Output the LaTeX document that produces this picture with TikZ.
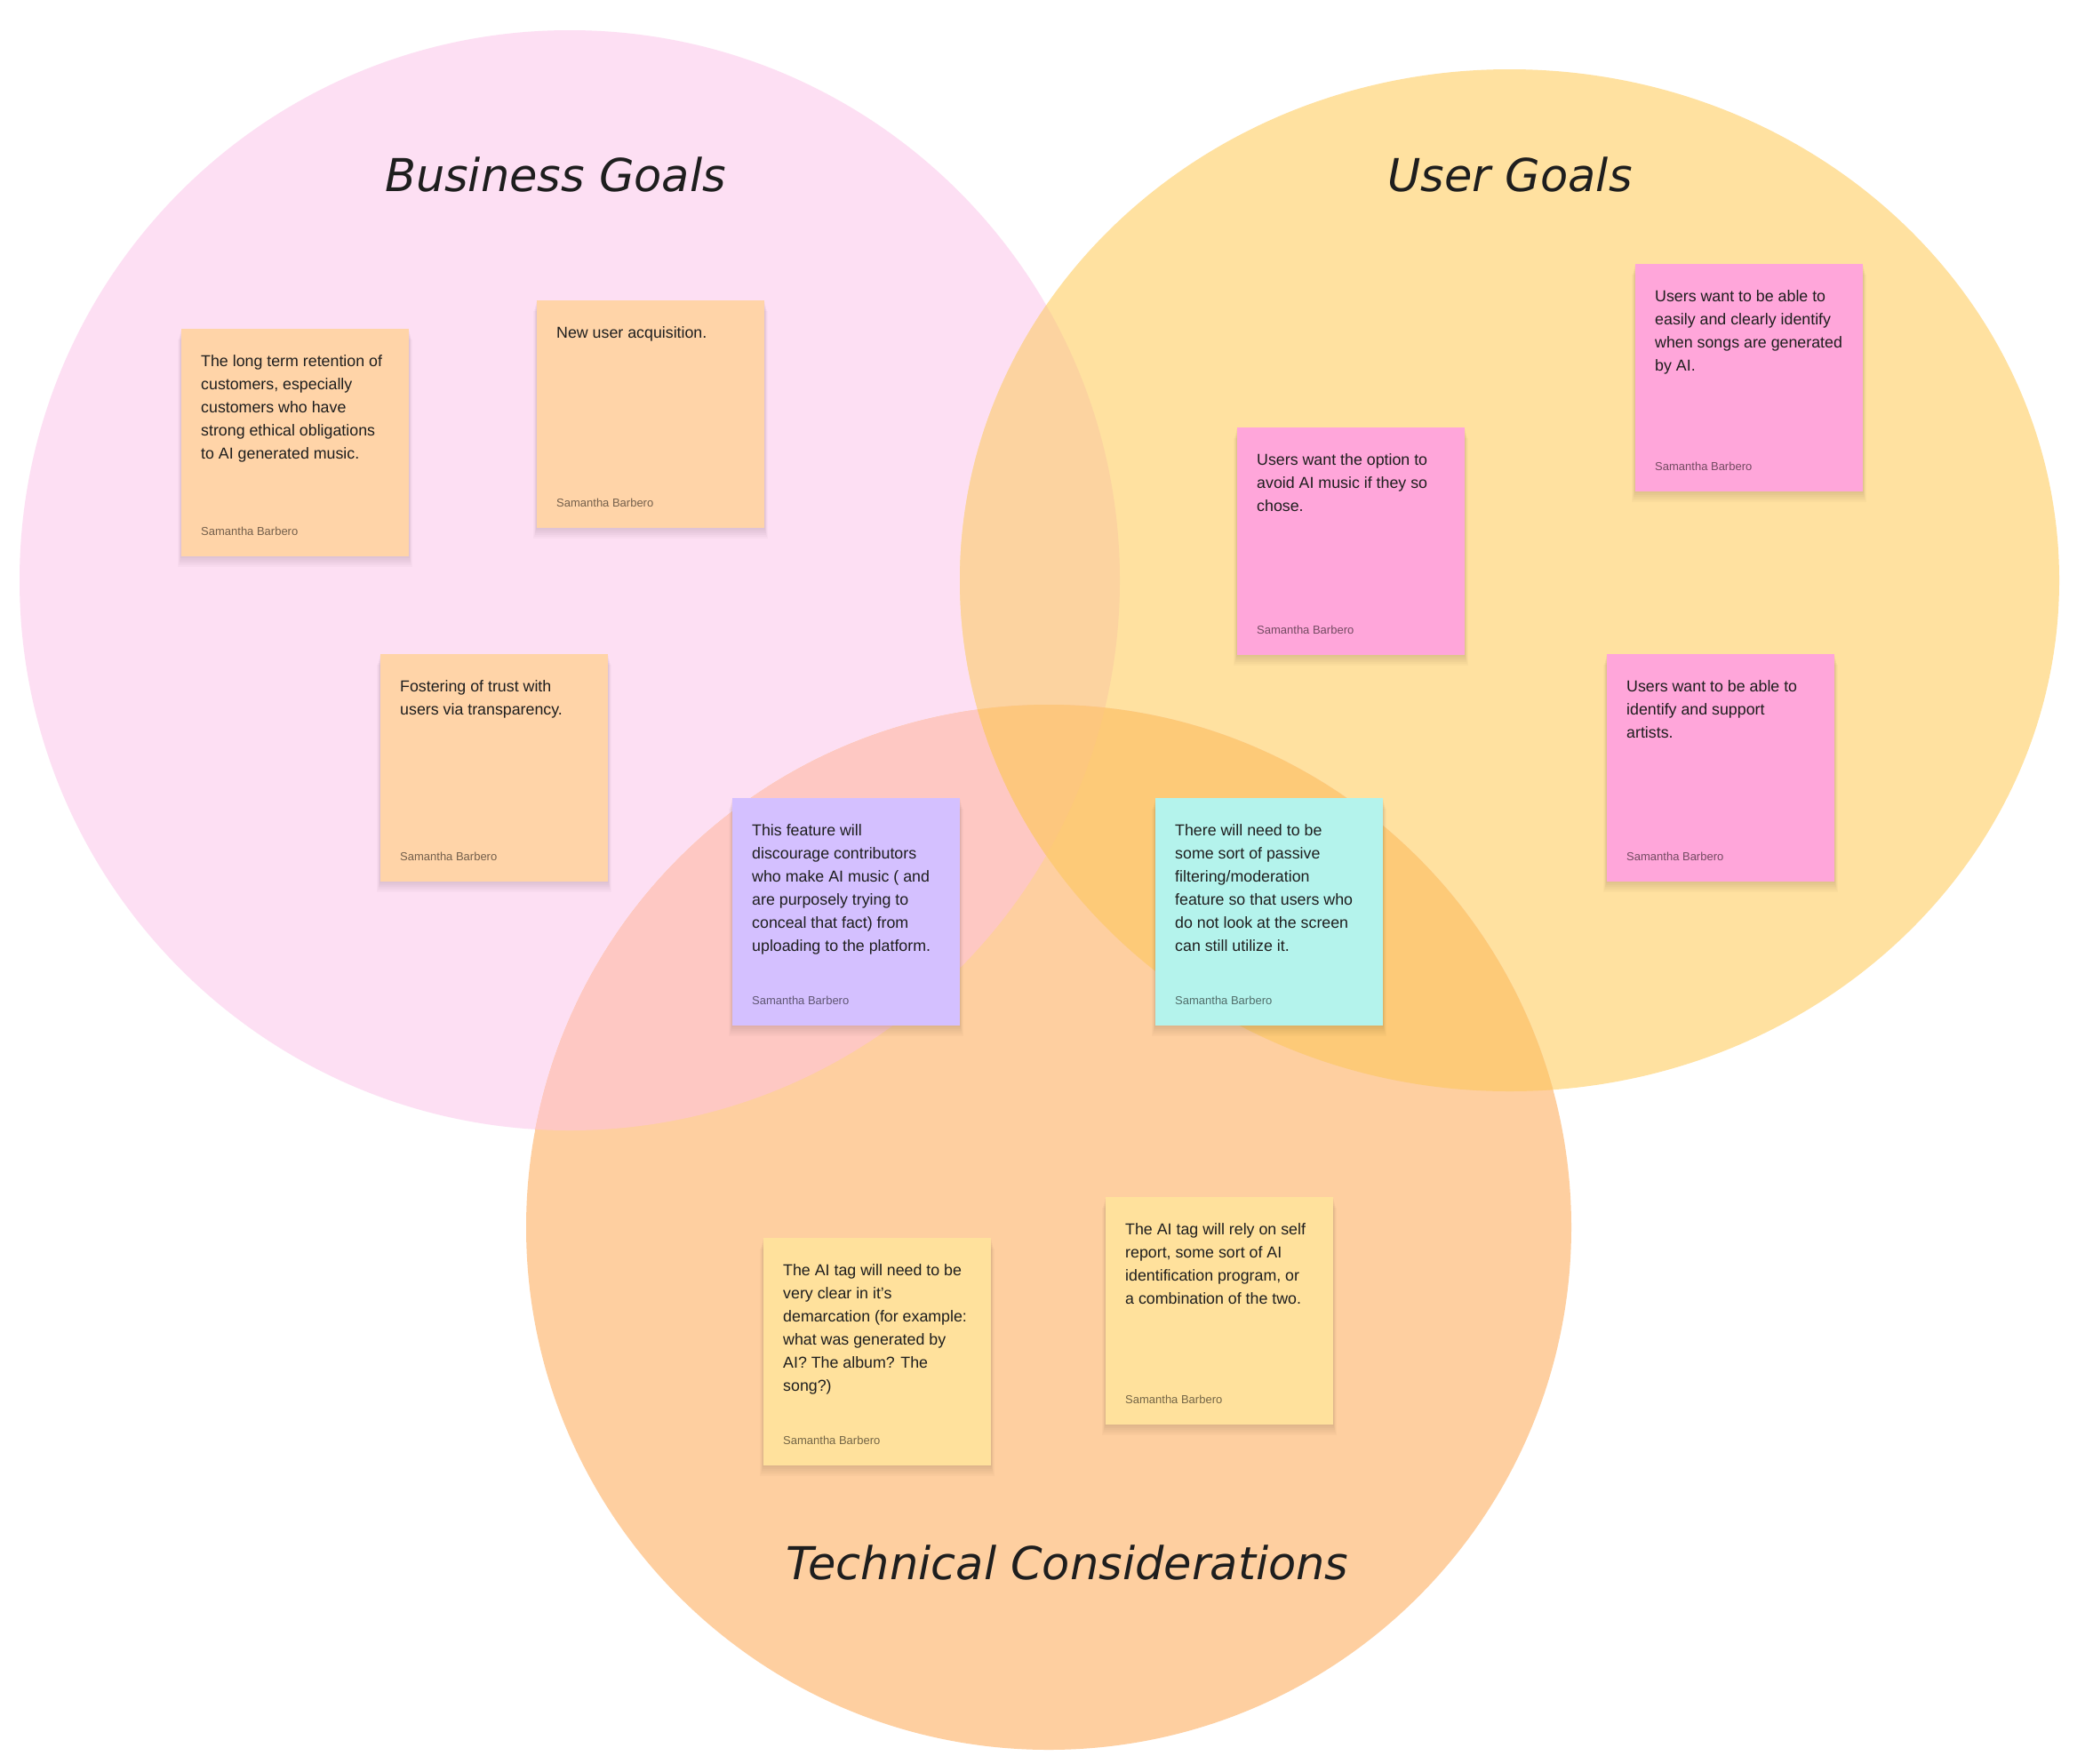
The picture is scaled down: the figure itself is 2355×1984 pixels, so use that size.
\documentclass[tikz,border=0pt]{standalone}
\usepackage{fontspec}
\setmainfont{Liberation Sans}
\newfontfamily\handfont{DejaVu Sans}
\definecolor{cPink}{HTML}{FDDFF3}
\definecolor{cYel}{HTML}{FFE1A0}
\definecolor{cOra}{HTML}{FECFA0}
\definecolor{cPY}{HTML}{FCD3A0}
\definecolor{cPO}{HTML}{FEC8C3}
\definecolor{cYO}{HTML}{FDCA78}
\definecolor{cPYO}{HTML}{FDC77E}
\definecolor{nPeach}{HTML}{FFD4A8}
\definecolor{nPurple}{HTML}{D4C0FF}
\definecolor{nTeal}{HTML}{B4F3EC}
\definecolor{nPink}{HTML}{FFA6DA}
\definecolor{nYel}{HTML}{FFE19C}
\definecolor{inkC}{HTML}{1E1E1E}
\newcommand\pinkC{(641,653) circle [radius=619pt]}
\newcommand\yelC{(1698.5,653) ellipse [x radius=618.5pt, y radius=575pt]}
\newcommand\oraC{(1180,1381) circle [radius=588pt]}
\newcommand\sticky[5]{%
  \foreach \k in {1,...,6}{%
    \fill[black,opacity=0.018] (#2-0.6*\k,#3+2*\k) rectangle (#2+256+0.6*\k,#3+256+2*\k);
  }
  \node[notebox, fill=#4] (n#1) at (#2,#3) {};
  \node[notetext] (t#1) at (#2+22,#3+26) {\rule{0pt}{16pt}#5};
  \node[noteauthor] (a#1) at (#2+22,#3+232) {Samantha Barbero};
}
\tikzset{
  notebox/.style={rectangle, anchor=north west, minimum width=256pt, minimum height=256pt, inner sep=0pt, draw=none},
  notetext/.style={anchor=north west, inner sep=0pt, align=left, text=inkC, font=\fontsize{17.8}{26}\selectfont},
  noteauthor/.style={anchor=base west, inner sep=0pt, text=black, text opacity=0.55, font=\fontsize{13}{15}\selectfont},
  title/.style={anchor=base, inner sep=0pt, text=inkC, font=\handfont\itshape\fontsize{51}{60}\selectfont}
}
\begin{document}
\begin{tikzpicture}[x=1pt,y=-1pt]
\useasboundingbox (0,0) rectangle (2355,1984);
\fill[white] (0,0) rectangle (2355,1984);
% base shapes
\fill[cPink] \pinkC;
\fill[cYel] \yelC;
\fill[cOra] \oraC;
% overlaps
\begin{scope}\clip \pinkC; \fill[cPY] \yelC; \end{scope}
\begin{scope}\clip \pinkC; \fill[cPO] \oraC; \end{scope}
\begin{scope}\clip \yelC; \fill[cYO] \oraC; \end{scope}
\begin{scope}\clip \pinkC; \clip \yelC; \fill[cPYO] \oraC; \end{scope}
% titles
\node[title] (tb) at (625,215) {Business Goals};
\node[title] (tu) at (1699,215) {User Goals};
\node[title] (tt) at (1201,1777) {Technical Considerations};
% notes
\sticky{1}{204}{370}{nPeach}{The long term retention of\\customers, especially\\customers who have\\strong ethical obligations\\to AI generated music.}
\sticky{2}{604}{338}{nPeach}{New user acquisition.}
\sticky{3}{428}{736}{nPeach}{Fostering of trust with\\users via transparency.}
\sticky{4}{824}{898}{nPurple}{This feature will\\discourage contributors\\who make AI music ( and\\are purposely trying to\\conceal that fact) from\\uploading to the platform.}
\sticky{5}{1392}{481}{nPink}{Users want the option to\\avoid AI music if they so\\chose.}
\sticky{6}{1840}{297}{nPink}{Users want to be able to\\easily and clearly identify\\when songs are generated\\by AI.}
\sticky{7}{1808}{736}{nPink}{Users want to be able to\\identify and support\\artists.}
\sticky{8}{1300}{898}{nTeal}{There will need to be\\some sort of passive\\filtering/moderation\\feature so that users who\\do not look at the screen\\can still utilize it.}
\sticky{9}{859}{1393}{nYel}{The AI tag will need to be\\very clear in it’s\\demarcation (for example:\\what was generated by\\AI? The album? The\\song?)}
\sticky{10}{1244}{1347}{nYel}{The AI tag will rely on self\\report, some sort of AI\\identification program, or\\a combination of the two.}
\end{tikzpicture}
\end{document}
